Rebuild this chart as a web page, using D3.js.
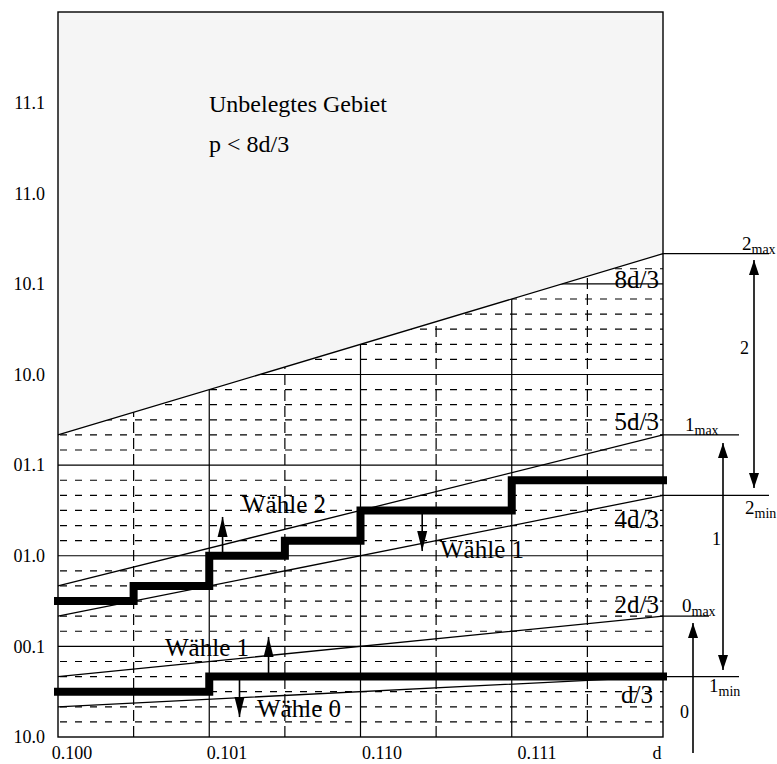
<!DOCTYPE html>
<html>
<head>
<meta charset="utf-8">
<script src="https://cdn.jsdelivr.net/npm/d3@7"></script>
<style>
body { margin: 0; background: #fff; }
text { font-family: "Liberation Serif", "Times New Roman", serif; fill: #000; }
</style>
</head>
<body>
<div id="chart"></div>
<script>
// Tick values and labels (binary notation as in the figure)
var xTickValues = [0.5, 0.625, 0.75, 0.875];
var xTickLabels = ["0.100", "0.101", "0.110", "0.111"];
var xMajor = [0.625, 0.75, 0.875];
var xMinor = [0.5625, 0.6875, 0.8125, 0.9375];

var yTickValues = [0, 0.5, 1, 1.5, 2, 2.5, 3, 3.5];
var yTickLabels = ["10.0", "00.1", "01.0", "01.1", "10.0", "10.1", "11.0", "11.1"];

// Threshold lines: p at d = 0.5 and at d = 1
var lineNames = ["8d/3", "5d/3", "4d/3", "2d/3", "d/3"];
var lineStart = [5 / 3, 5 / 6, 2 / 3, 1 / 3, 1 / 6];
var lineEnd = [8 / 3, 5 / 3, 4 / 3, 2 / 3, 1 / 3];

// Thick step curves
var upperSteps = [0.5, 0.5625, 0.625, 0.6875, 0.75, 0.875, 1.0];
var upperValues = [0.75, 5 / 6, 1.0, 13 / 12, 1.25, 17 / 12];
var lowerSteps = [0.5, 0.625, 1.0];
var lowerValues = [0.25, 1 / 3];

var svgWidth = 777;
var svgHeight = 764;

var svg = d3.select("#chart")
    .append("svg")
    .attr("width", svgWidth)
    .attr("height", svgHeight);

var x = d3.scaleLinear().domain([0.5, 1.0]).range([58, 663]);
var y = d3.scaleLinear().domain([0, 4]).range([737, 12]);
// tick labels sit a little to the right of their ticks
var xLabel = d3.scaleLinear().domain([0.5, 0.875]).range([72, 537]);

// Grid: dashed every 1/12, solid every 1/2
var gridG = svg.append("g");
var minorP = d3.range(1, 48).filter(k => k % 6 !== 0).map(k => k / 12);
var majorP = d3.range(1, 8).map(k => k / 2);

gridG.selectAll(".hminor")
    .data(minorP)
    .enter()
    .append("line")
    .attr("x1", x(0.5)).attr("x2", x(1.0))
    .attr("y1", d => y(d)).attr("y2", d => y(d))
    .attr("stroke", "#000")
    .attr("stroke-width", 1.2)
    .attr("stroke-dasharray", "7,8")
    .attr("stroke-dashoffset", -2);

gridG.selectAll(".vminor")
    .data(xMinor)
    .enter()
    .append("line")
    .attr("x1", d => x(d)).attr("x2", d => x(d))
    .attr("y1", y(0)).attr("y2", y(4))
    .attr("stroke", "#000")
    .attr("stroke-width", 1.2)
    .attr("stroke-dasharray", "11,5");

gridG.selectAll(".hmajor")
    .data(majorP)
    .enter()
    .append("line")
    .attr("x1", x(0.5)).attr("x2", x(1.0))
    .attr("y1", d => y(d)).attr("y2", d => y(d))
    .attr("stroke", "#000")
    .attr("stroke-width", 1.2);

gridG.selectAll(".vmajor")
    .data(xMajor)
    .enter()
    .append("line")
    .attr("x1", d => x(d)).attr("x2", d => x(d))
    .attr("y1", y(0)).attr("y2", y(4))
    .attr("stroke", "#000")
    .attr("stroke-width", 1.2);

// Unoccupied area above the 8d/3 line
svg.append("path")
    .attr("d", d3.line()([
        [x(0.5), y(4)], [x(1.0), y(4)],
        [x(1.0), y(lineEnd[0])], [x(0.5), y(lineStart[0])]
    ]) + "Z")
    .attr("fill", "#f5f5f5")
    .attr("stroke", "none");

// Frame
svg.append("rect")
    .attr("x", x(0.5)).attr("y", y(4))
    .attr("width", x(1.0) - x(0.5))
    .attr("height", y(0) - y(4))
    .attr("fill", "none")
    .attr("stroke", "#000")
    .attr("stroke-width", 1.4);

// Threshold lines, with horizontal extensions to the right-hand marks
var extendTo = [769, 739, 769, 709, 739];
lineNames.forEach(function(name, i) {
    svg.append("path")
        .attr("d", d3.line()([
            [x(0.5), y(lineStart[i])],
            [x(1.0), y(lineEnd[i])],
            [extendTo[i], y(lineEnd[i])]
        ]))
        .attr("fill", "none")
        .attr("stroke", "#000")
        .attr("stroke-width", 1.3);
});

// Step curves
function stepPoints(steps, values) {
    var pts = values.map((v, i) => [steps[i], v]);
    pts.push([steps[steps.length - 1], values[values.length - 1]]);
    return pts;
}
var stepLine = d3.line()
    .x(d => x(d[0]))
    .y(d => y(d[1]))
    .curve(d3.curveStepAfter);

[stepPoints(upperSteps, upperValues), stepPoints(lowerSteps, lowerValues)].forEach(function(pts) {
    svg.append("path")
        .attr("d", stepLine(pts))
        .attr("fill", "none")
        .attr("stroke", "#000")
        .attr("stroke-width", 8)
        .attr("stroke-linecap", "square")
        .attr("stroke-linejoin", "miter");
});

// Arrows
function arrow(px, y1, y2, headLen, headW, both) {
    svg.append("line")
        .attr("x1", px).attr("x2", px)
        .attr("y1", y1).attr("y2", y2)
        .attr("stroke", "#000")
        .attr("stroke-width", 1.6);
    var dir = y2 < y1 ? 1 : -1;
    svg.append("path")
        .attr("d", `M${px},${y2} L${px - headW / 2},${y2 + dir * headLen} L${px + headW / 2},${y2 + dir * headLen} Z`)
        .attr("fill", "#000");
    if (both) {
        svg.append("path")
            .attr("d", `M${px},${y1} L${px - headW / 2},${y1 - dir * headLen} L${px + headW / 2},${y1 - dir * headLen} Z`)
            .attr("fill", "#000");
    }
}

// arrows on the step curves (d, from p, to p)
arrow(x(0.636), y(1.0), y(1.214), 20, 10, false);
arrow(x(0.801), y(1.25), y(1.026), 20, 10, false);
arrow(x(0.674), y(1 / 3), y(0.552), 20, 10, false);
arrow(x(0.650), y(1 / 3), y(0.110), 20, 10, false);

// range arrows on the right
arrow(754, 488, 260, 15, 10, true);
arrow(723, 670, 443, 15, 10, true);
arrow(693, 753, 623, 15, 10, false);

// Axis labels
svg.selectAll(".ylab")
    .data(yTickValues)
    .enter()
    .append("text")
    .attr("x", 45)
    .attr("y", d => y(d))
    .attr("dy", "0.35em")
    .attr("text-anchor", "end")
    .attr("font-size", 18)
    .text((d, i) => yTickLabels[i]);

svg.selectAll(".xlab")
    .data(xTickValues)
    .enter()
    .append("text")
    .attr("x", d => xLabel(d))
    .attr("y", 759)
    .attr("text-anchor", "middle")
    .attr("font-size", 18)
    .text((d, i) => xTickLabels[i]);

svg.append("text")
    .attr("x", x(1.0) - 6)
    .attr("y", 759)
    .attr("text-anchor", "middle")
    .attr("font-size", 18)
    .text("d");

// Region text
svg.append("text")
    .attr("x", 209).attr("y", 112)
    .attr("font-size", 24)
    .text("Unbelegtes Gebiet");
svg.append("text")
    .attr("x", 209).attr("y", 152)
    .attr("font-size", 24)
    .text("p < 8d/3");

// Line labels
var lineLabelY = [288, 430, 528, 613, 703];
var lineLabelX = [659, 659, 659, 659, 653];
lineNames.forEach(function(name, i) {
    svg.append("text")
        .attr("x", lineLabelX[i])
        .attr("y", lineLabelY[i])
        .attr("text-anchor", "end")
        .attr("font-size", 25)
        .text(name);
});

// "Wähle" labels
[["Wähle 2", 242, 513], ["Wähle 1", 440, 558], ["Wähle 1", 165, 656], ["Wähle 0", 257, 717]]
    .forEach(function(t) {
        svg.append("text")
            .attr("x", t[1]).attr("y", t[2])
            .attr("font-size", 25)
            .text(t[0]);
    });

// Limit marks with subscripts
[["2", "max", 742, 250], ["2", "min", 745, 514], ["1", "max", 685, 431],
 ["1", "min", 709, 692], ["0", "max", 682, 612]].forEach(function(t) {
    var txt = svg.append("text")
        .attr("x", t[2]).attr("y", t[3])
        .attr("font-size", 19);
    txt.append("tspan").text(t[0]);
    txt.append("tspan")
        .attr("dy", 4)
        .attr("font-size", 14)
        .text(t[1]);
});

[["2", 740, 354], ["1", 712, 545], ["0", 680, 718]].forEach(function(t) {
    svg.append("text")
        .attr("x", t[1]).attr("y", t[2])
        .attr("font-size", 18)
        .text(t[0]);
});
</script>
</body>
</html>
